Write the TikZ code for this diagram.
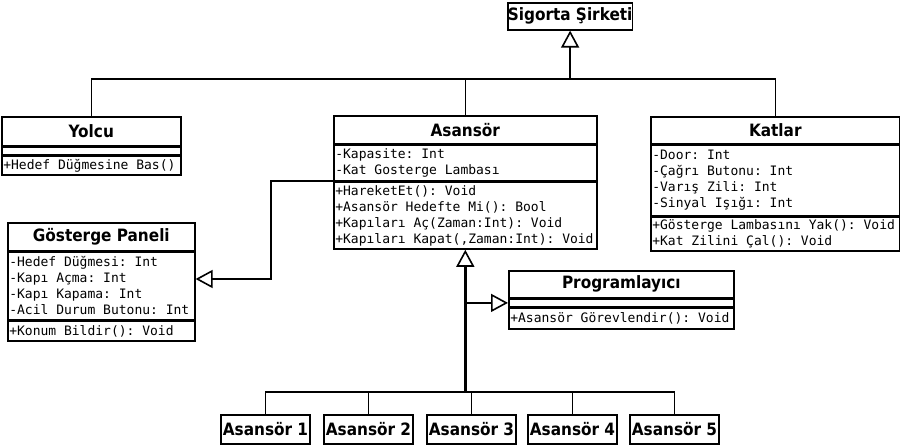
\documentclass[tikz,border=0pt]{standalone}
\usepackage{fontspec}
\newfontfamily\titlefont{DejaVu Sans Condensed}
\newfontfamily\monofont{DejaVu Sans Mono}
\usetikzlibrary{arrows.meta}

\begin{document}
\begin{tikzpicture}[
        x=1pt, y=-1pt,
        box/.style = {draw, line width=1.6pt, inner sep=0pt, font=\fontsize{17}{20}\selectfont\titlefont\bfseries},
        head/.style = {box, anchor=north west, minimum height=28},
        body/.style = {draw, line width=1.6pt, anchor=north west, inner xsep=1.5pt, inner ysep=1pt, align=flush left, text width=#1, font=\fontsize{13}{16}\selectfont\monofont\frenchspacing},
        unit/.style = {box, minimum width=89, minimum height=29},
        line/.style = {draw, line width=1.6pt},
        gen/.style = {line, -{Triangle[open, length=17pt, width=18pt, line width=1.6pt]}}
    ]
 \useasboundingbox (0,0) rectangle (900,446);

 \node[head, minimum width=123, minimum height=27] (sigorta) at (507,2) {Sigorta Şirketi};

 \node[head, minimum width=179, minimum height=29] (yolcu) at (1,116) {Yolcu};
 \node[body=176, minimum height=7] (yolcu-a) at (yolcu.south west) {};
 \node[body=176, minimum height=19] (yolcu-m) at (yolcu-a.south west) {+Hedef Düğmesine Bas()};

 \node[head, minimum width=263] (asansor) at (333,115) {Asansör};
 \node[body=260, minimum height=35] (asansor-a) at (asansor.south west)
     {-Kapasite: Int\\-Kat Gosterge Lambası};
 \node[body=260, minimum height=67] (asansor-m) at (asansor-a.south west)
     {+HareketEt(): Void\\+Asansör Hedefte Mi(): Bool\\+Kapıları Aç(Zaman:Int): Void\\+Kapıları Kapat(,Zaman:Int): Void};

 \node[head, minimum width=249, minimum height=27] (katlar) at (650,116) {Katlar};
 \node[body=246, minimum height=70] (katlar-a) at (katlar.south west)
     {-Door: Int\\-Çağrı Butonu: Int\\-Varış Zili: Int\\-Sinyal Işığı: Int};
 \node[body=246, minimum height=34] (katlar-m) at (katlar-a.south west)
     {+Gösterge Lambasını Yak(): Void\\+Kat Zilini Çal(): Void};

 \node[head, minimum width=187] (gosterge) at (7,222) {Gösterge Paneli};
 \node[body=184, minimum height=67] (gosterge-a) at (gosterge.south west)
     {-Hedef Düğmesi: Int\\-Kapı Açma: Int\\-Kapı Kapama: Int\\-Acil Durum Butonu: Int};
 \node[body=184, minimum height=20] (gosterge-m) at (gosterge-a.south west) {+Konum Bildir(): Void};

 \node[head, minimum width=225, minimum height=27] (prog) at (508,270) {Programlayıcı};
 \node[body=222, minimum height=7] (prog-a) at (prog.south west) {};
 \node[body=222, minimum height=21] (prog-m) at (prog-a.south west) {+Asansör Görevlendir(): Void};

 \foreach \x [count=\i] in {265.5,368.5,471.5,572.5,674.5}
     \node[unit] (a\i) at (\x,429.5) {Asansör \i};

 \coordinate (bus) at (sigorta.south |- 0,79);
 \coordinate (trunk) at (asansor-m.south |- 0,392);

 \draw[gen] (bus) -- (sigorta.south);
 \draw[line] (yolcu.north) |- (bus) -| (katlar.north);
 \draw[line] (asansor.north) -- (asansor.north |- bus);
 \draw[gen] (asansor-m.north west) -- ++(-62,0) |- (gosterge-a.east |- 0,279);
 \draw[gen] (asansor.south |- prog-a.west) -- (prog-a.west);
 \draw[gen, line width=2.6pt] (trunk) -- (asansor-m.south);
 \foreach \i in {1,...,5}
     \draw[line] (a\i.north) |- (trunk);
\end{tikzpicture}
\end{document}
